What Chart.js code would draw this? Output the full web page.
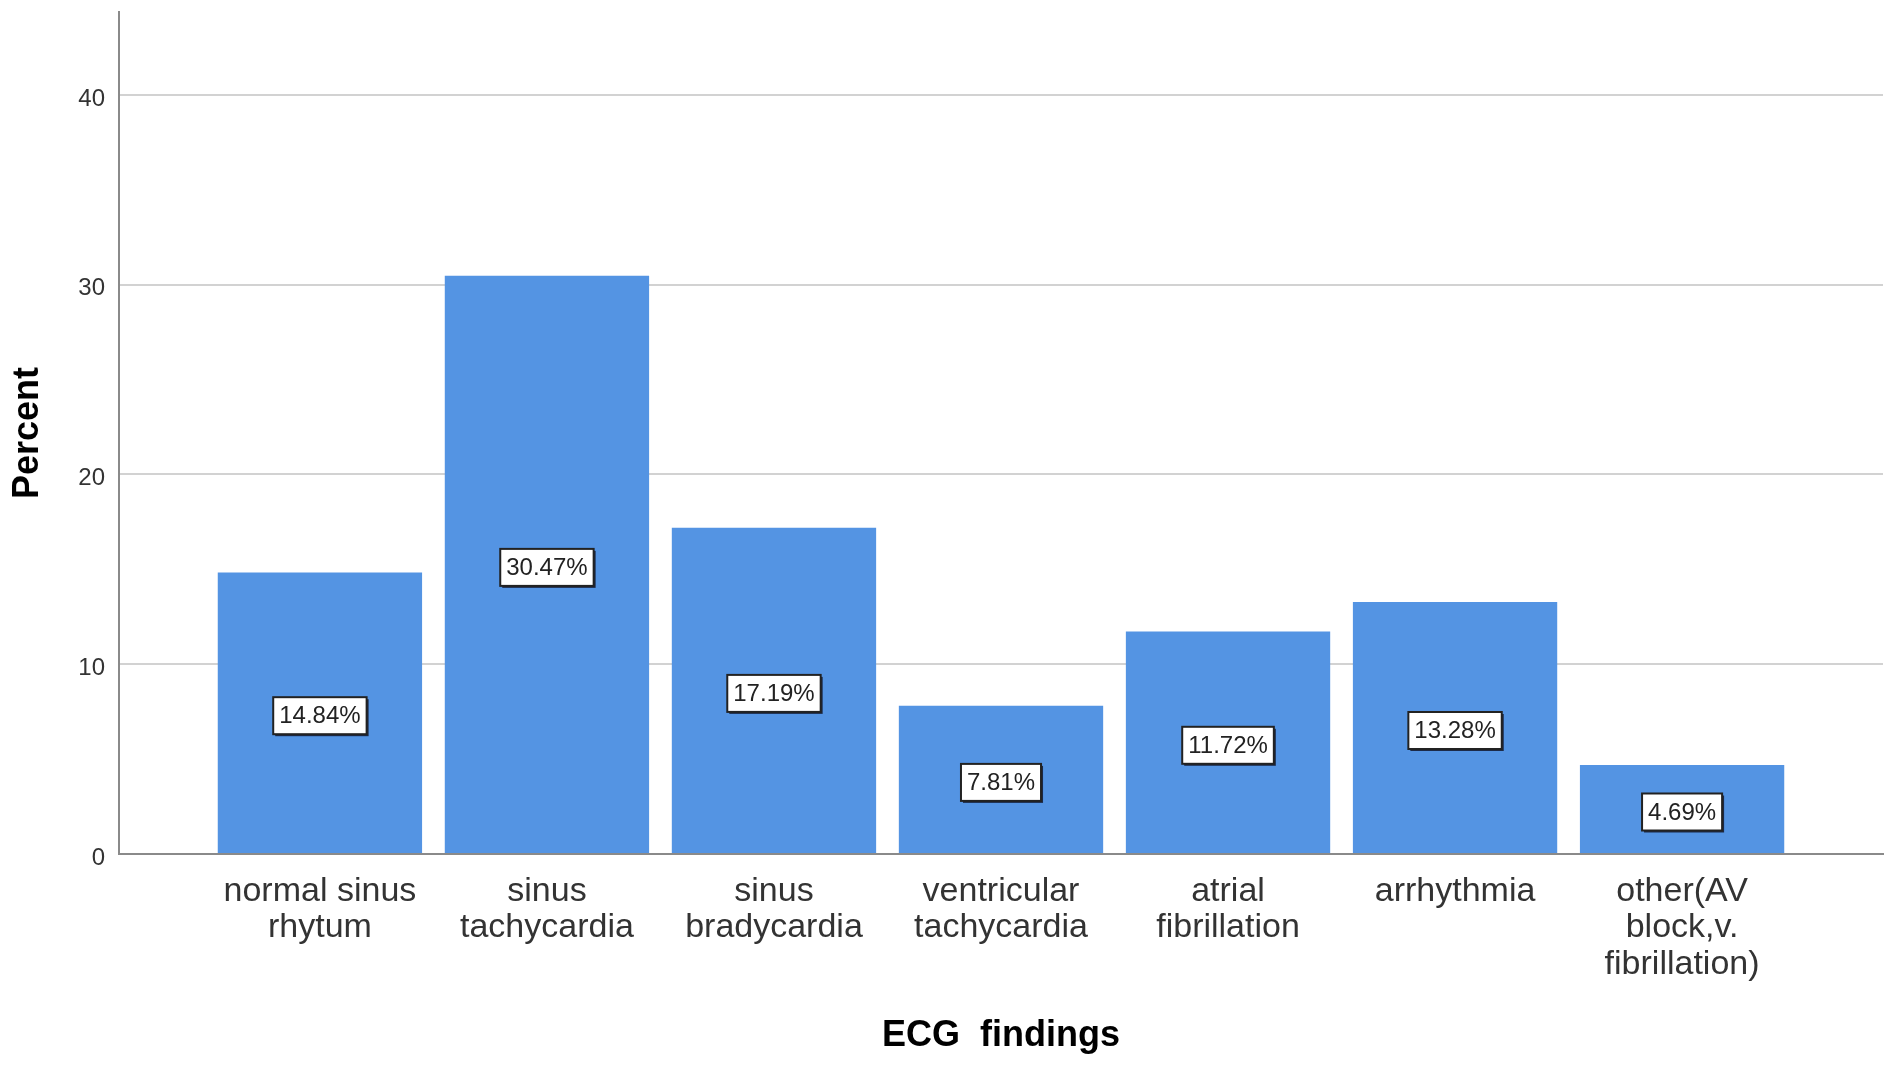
<!DOCTYPE html>
<html>
<head>
<meta charset="utf-8">
<script src="https://cdn.jsdelivr.net/npm/chart.js@4.4.1/dist/chart.umd.min.js"></script>
<style>
  html, body { margin: 0; padding: 0; background: #ffffff; }
  #wrap { width: 1902px; height: 1069px; position: relative; }
</style>
</head>
<body>
<div id="wrap"><canvas id="ecgChart"></canvas></div>
<script>
// categories (multi-line labels as in the original)
const categories = [
    ['normal sinus', 'rhytum'],
    ['sinus', 'tachycardia'],
    ['sinus', 'bradycardia'],
    ['ventricular', 'tachycardia'],
    ['atrial', 'fibrillation'],
    ['arrhythmia'],
    ['other(AV', 'block,v.', 'fibrillation)']
];
const percentValues = [14.84, 30.47, 17.19, 7.81, 11.72, 13.28, 4.69];
const yTicks = [0, 10, 20, 30, 40];
const xTitle = 'ECG  findings';
const yTitle = 'Percent';

const FONT = '"Liberation Sans", Arial, sans-serif';

// white boxes with the percent value in the middle of every bar
const valueBoxes = {
    id: 'valueBoxes',
    afterDatasetsDraw(chart) {
        const ctx = chart.ctx;
        const meta = chart.getDatasetMeta(0);
        ctx.save();
        ctx.font = '24px ' + FONT;
        ctx.textAlign = 'center';
        ctx.textBaseline = 'middle';
        meta.data.forEach((bar, i) => {
            const text = percentValues[i].toFixed(2) + '%';
            const w = ctx.measureText(text).width + 12;
            const h = 37;
            const cx = bar.x;
            const cy = (bar.y + bar.base) / 2 + 3; // sits a touch below mid-height
            // shadow
            ctx.fillStyle = '#1c2a48';
            ctx.fillRect(cx - w / 2 + 2, cy - h / 2 + 2, w, h);
            ctx.fillStyle = '#ffffff';
            ctx.fillRect(cx - w / 2, cy - h / 2, w, h);
            ctx.strokeStyle = '#222222';
            ctx.lineWidth = 2;
            ctx.strokeRect(cx - w / 2, cy - h / 2, w, h);
            ctx.fillStyle = '#222222';
            ctx.fillText(text, cx, cy + 1);
        });
        ctx.restore();
    }
};

const ctx = document.getElementById('ecgChart').getContext('2d');
new Chart(ctx, {
    type: 'bar',
    data: {
        datasets: [{
            data: percentValues.map((v, i) => ({ x: i + 1, y: v })),
            backgroundColor: '#5494e3',
            borderWidth: 0,
            categoryPercentage: 1,
            barPercentage: 0.9
        }]
    },
    options: {
        responsive: true,
        maintainAspectRatio: false,
        animation: false,
        layout: { padding: { top: 12, right: 19, left: 0, bottom: 0 } },
        plugins: {
            legend: { display: false },
            title: { display: false },
            tooltip: { enabled: false }
        },
        scales: {
            x: {
                type: 'linear',
                min: 0.115,
                max: 7.885,
                offset: false,
                afterBuildTicks: axis => {
                    axis.ticks = categories.map((c, i) => ({ value: i + 1 }));
                },
                afterFit: scale => {
                    scale.height = 215;
                    scale.paddingLeft = 0;
                    scale.paddingRight = 0;
                },
                grid: { display: false, drawTicks: false },
                border: { display: true, color: '#8a8a8a', width: 2 },
                ticks: {
                    autoSkip: false,
                    maxRotation: 0,
                    padding: 19,
                    color: '#333333',
                    font: { family: FONT, size: 34, lineHeight: 1.08 },
                    callback: value => categories[value - 1] || ''
                },
                title: {
                    display: true,
                    text: xTitle,
                    color: '#000000',
                    font: { family: FONT, size: 36, weight: 'bold', lineHeight: 1.2 },
                    padding: { top: 0, bottom: 11 }
                }
            },
            y: {
                min: 0,
                max: 44.37,
                afterBuildTicks: axis => {
                    axis.ticks = yTicks.map(v => ({ value: v }));
                },
                afterFit: scale => {
                    scale.width = 119;
                    // no extra room for half tick labels above/below the plot
                    scale.paddingTop = 0;
                    scale.paddingBottom = 0;
                },
                grid: { color: '#d2d2d2', lineWidth: 2, drawTicks: false },
                border: { display: true, color: '#8a8a8a', width: 2 },
                ticks: {
                    padding: 14,
                    labelOffset: 4,
                    color: '#333333',
                    font: { family: FONT, size: 24 }
                },
                title: {
                    display: true,
                    text: yTitle,
                    color: '#000000',
                    font: { family: FONT, size: 36, weight: 'bold', lineHeight: 1.2 },
                    padding: { top: 6, bottom: 0 }
                }
            }
        }
    },
    plugins: [valueBoxes]
});
</script>
</body>
</html>
